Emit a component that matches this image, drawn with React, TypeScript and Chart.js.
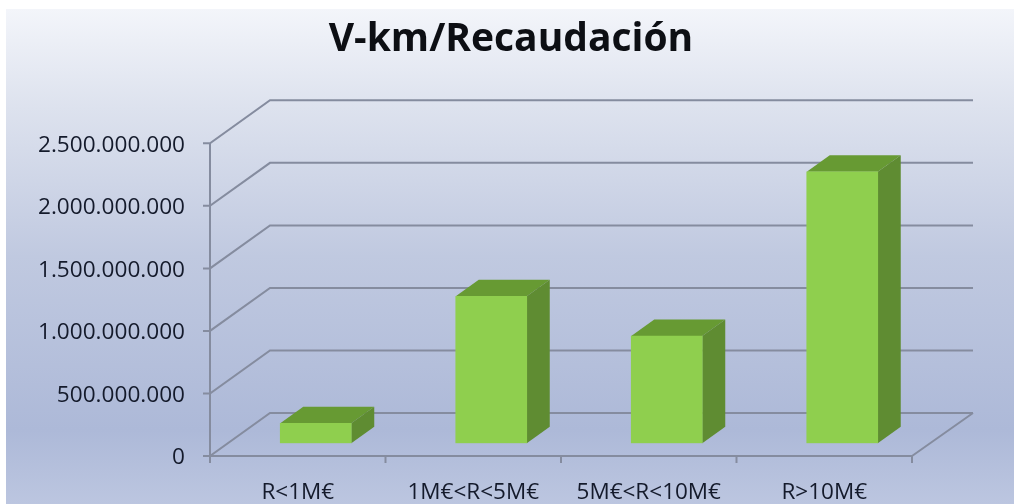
import React, { useEffect, useRef } from "react";
import { Chart, registerables } from "chart.js";

Chart.register(...registerables);

const categories = ["R<1M€", "1M€<R<5M€", "5M€<R<10M€", "R>10M€"];
const recaudacion = [160000000, 1176000000, 858000000, 2171000000];
const yTicks = [0, 500000000, 1000000000, 1500000000, 2000000000, 2500000000];

const wallDx = 60;
const wallDy = 43;
const barShiftX = 18;
const barShiftY = 12.7;
const barDx = 23;
const barDy = 16.5;

const gridColor = "#858c9f";
const frontColor = "#8fcf4e";
const topColor = "#679a33";
const sideColor = "#5f8c32";

const formatTick = (v: number) => String(v).replace(/\B(?=(\d{3})+(?!\d))/g, ".");

const scene = {
  id: "scene",
  beforeDraw(chart: any) {
    const { ctx, width, height } = chart;
    ctx.save();
    ctx.fillStyle = "#ffffff";
    ctx.fillRect(0, 0, width, height);
    const g = ctx.createLinearGradient(0, 9, 0, 504);
    g.addColorStop(0, "#f3f5fa");
    g.addColorStop(0.2, "#dde2ee");
    g.addColorStop(0.5, "#c0c9e0");
    g.addColorStop(0.85, "#adb9d8");
    g.addColorStop(1, "#bcc6e0");
    ctx.fillStyle = g;
    ctx.fillRect(6, 9, width - 6, height - 9);
    ctx.restore();
  },
  beforeDatasetsDraw(chart: any) {
    const { ctx, chartArea, scales } = chart;
    const y = scales.y;
    const { left, right } = chartArea;
    ctx.save();
    ctx.strokeStyle = gridColor;
    ctx.lineWidth = 2;
    yTicks.forEach((t) => {
      const p = y.getPixelForValue(t);
      ctx.beginPath();
      ctx.moveTo(left - 7, p);
      ctx.lineTo(left, p);
      ctx.lineTo(left + wallDx, p - wallDy);
      ctx.lineTo(right + wallDx + 1, p - wallDy);
      ctx.stroke();
    });
    const p0 = y.getPixelForValue(0);
    ctx.beginPath();
    ctx.moveTo(right, p0);
    ctx.lineTo(right + wallDx + 1, p0 - wallDy);
    ctx.moveTo(left, y.getPixelForValue(yTicks[yTicks.length - 1]));
    ctx.lineTo(left, p0 + 7);
    ctx.moveTo(left, p0);
    ctx.lineTo(right, p0);
    categories.forEach((_, i) => {
      const x = left + ((right - left) * (i + 1)) / categories.length;
      ctx.moveTo(x, p0);
      ctx.lineTo(x, p0 + 7);
    });
    ctx.stroke();
    ctx.restore();
  },
  beforeDatasetDraw(chart: any) {
    const { ctx } = chart;
    const meta = chart.getDatasetMeta(0);
    ctx.save();
    meta.data.forEach((bar: any) => {
      const half = bar.width / 2;
      const l = bar.x + barShiftX - half;
      const r = bar.x + barShiftX + half;
      const t = bar.y - barShiftY;
      const b = bar.base - barShiftY;
      ctx.fillStyle = topColor;
      ctx.beginPath();
      ctx.moveTo(l, t);
      ctx.lineTo(l + barDx, t - barDy);
      ctx.lineTo(r + barDx, t - barDy);
      ctx.lineTo(r, t);
      ctx.closePath();
      ctx.fill();
      ctx.fillStyle = sideColor;
      ctx.beginPath();
      ctx.moveTo(r, t);
      ctx.lineTo(r + barDx, t - barDy);
      ctx.lineTo(r + barDx, b - barDy);
      ctx.lineTo(r, b);
      ctx.closePath();
      ctx.fill();
    });
    ctx.restore();
    ctx.save();
    ctx.translate(barShiftX, -barShiftY);
  },
  afterDatasetDraw(chart: any) {
    chart.ctx.restore();
  },
};

export default function App() {
  const ref = useRef<HTMLCanvasElement>(null);
  useEffect(() => {
    const chart = new Chart(ref.current!, {
      type: "bar",
      data: {
        labels: categories,
        datasets: [
          {
            label: "V-km/Recaudación",
            data: recaudacion,
            backgroundColor: frontColor,
            barThickness: 71,
          },
        ],
      },
      plugins: [scene],
      options: {
        animation: false,
        responsive: false,
        layout: { padding: { left: 8, right: 0, top: 0, bottom: 0 } },
        plugins: {
          legend: { display: false },
          tooltip: { enabled: false },
          title: {
            display: true,
            text: "V-km/Recaudación",
            color: "#0d0f14",
            font: { family: "Open Sans", size: 39, weight: "bold" },
            padding: { top: 16.1, bottom: 80.4 },
          },
        },
        scales: {
          x: {
            grid: { display: false },
            border: { display: false },
            ticks: {
              color: "#141a2b",
              font: { family: "Open Sans", size: 22.5 },
              maxRotation: 0,
              autoSkip: false,
              padding: 15,
            },
            afterFit(s: any) {
              s.height = 48;
            },
          },
          y: {
            min: 0,
            max: 2500000000,
            afterBuildTicks(s: any) {
              s.ticks = yTicks.map((value) => ({ value }));
            },
            grid: { display: false },
            border: { display: false },
            ticks: {
              color: "#141a2b",
              font: { family: "Open Sans", size: 22.6 },
              padding: 17,
              labelOffset: 2,
              callback: (v: any) => formatTick(Number(v)),
            },
            afterFit(s: any) {
              s.width = 202;
            },
          },
          rightSpace: {
            position: "right",
            grid: { display: false },
            border: { display: false },
            ticks: { display: false },
            afterFit(s: any) {
              s.width = 102;
            },
          },
        },
      },
    });
    return () => chart.destroy();
  }, []);
  return (
    <canvas
      ref={ref}
      width={1014}
      height={504}
      style={{ position: "fixed", left: 0, top: 0, display: "block", filter: "blur(0.5px)" }}
    />
  );
}
